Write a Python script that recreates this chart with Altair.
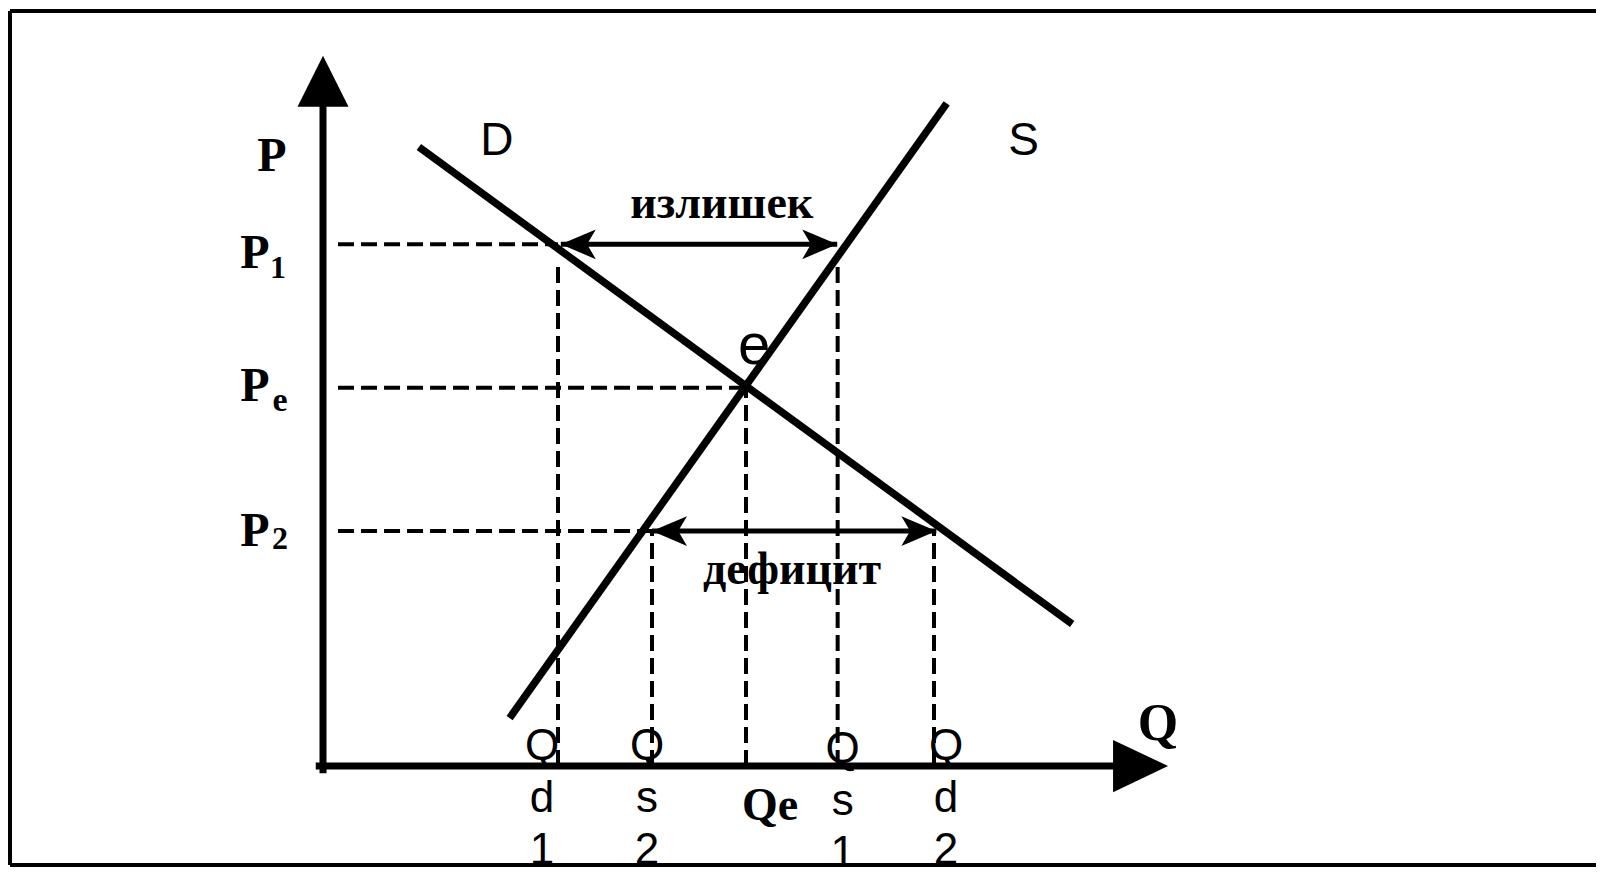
import altair as alt
import pandas as pd

# ---------------- values (economic units) ----------------
P_NAMES = ["P1", "Pe", "P2"]
P_VALUES = [11.1, 8.05, 5.0]
Q_NAMES = ["Qd1", "Qs2", "Qe", "Qs1", "Qd2"]
Q_VALUES = [5.0, 7.0, 9.0, 10.95, 13.0]
DEMAND_Q = [2.04, 15.94]
DEMAND_P = [13.17, 3.02]
SUPPLY_Q = [3.97, 13.27]
SUPPLY_P = [1.02, 14.1]
AXIS_Q_END = 17.98      # tip of the Q axis arrow
AXIS_P_END = 15.11      # tip of the P axis arrow
GUIDE_START = 0.32      # dashed price guides start just right of the axis
GUIDE_TOP = 10.75       # top of dashed drops at Qd1 and Qs1
SURPLUS_Q = [5.06, 10.94]
DEFICIT_Q = [7.0, 13.05]
Q_TICK_TEXT = ["Q\nd\n1", "Q\ns\n2", "Q\ns\n1", "Q\nd\n2"]

QD1, QS2, QE, QS1, QD2 = Q_VALUES
P1, PE, P2 = P_VALUES

# ---------------- layout ----------------
W, H = 1586, 854
UNIT = 47.0                 # pixels per economic unit (both axes)
ORIGIN_X, ORIGIN_Y = 313.0, 755.0   # origin inside the plot area
XDOM = [-ORIGIN_X / UNIT, (W - ORIGIN_X) / UNIT]
YDOM = [(ORIGIN_Y - H) / UNIT, ORIGIN_Y / UNIT]

SERIF = "Liberation Serif"
SANS = "Liberation Sans"


def X(f="q"):
    return alt.X(f"{f}:Q", scale=alt.Scale(domain=XDOM, nice=False, zero=False), axis=None)


def Y(f="p"):
    return alt.Y(f"{f}:Q", scale=alt.Scale(domain=YDOM, nice=False, zero=False), axis=None)


def segs(rows):
    return pd.DataFrame(rows, columns=["q", "p", "q2", "p2"])


# picture frame (top, left, bottom edges)
frame_top = alt.Chart().mark_rule(color="black", strokeWidth=4).encode(
    x=alt.value(0), x2=alt.value(W), y=alt.value(0))
frame_left = alt.Chart().mark_rule(color="black", strokeWidth=4).encode(
    x=alt.value(0), y=alt.value(0), y2=alt.value(H))
frame_bottom = alt.Chart().mark_rule(color="black", strokeWidth=4).encode(
    x=alt.value(0), x2=alt.value(W), y=alt.value(H))

# curves
curves = pd.DataFrame({
    "q": DEMAND_Q + SUPPLY_Q,
    "p": DEMAND_P + SUPPLY_P,
    "curve": ["D", "D", "S", "S"],
})
curve_layer = alt.Chart(curves).mark_line(color="black", strokeWidth=7.5, strokeCap="butt").encode(
    x=X(), y=Y(), detail="curve:N", order="q:Q"
)

# axes
axes = segs([
    [0, -0.08, 0, AXIS_P_END - 0.6],
    [-0.08, 0, AXIS_Q_END - 0.6, 0],
])
axis_layer = alt.Chart(axes).mark_rule(color="black", strokeWidth=7, strokeCap="square").encode(
    x=X(), y=Y(), x2="q2:Q", y2="p2:Q"
)
up_head = alt.Chart(pd.DataFrame({"q": [0], "p": [AXIS_P_END]})).mark_point(
    shape="M0,0L-1,2L1,2Z", filled=True, size=2601, color="black", opacity=1, strokeWidth=0
).encode(x=X(), y=Y())
right_axis_head = alt.Chart(pd.DataFrame({"q": [AXIS_Q_END], "p": [0]})).mark_point(
    shape="M0,0L-2,-0.95L-2,0.95Z", filled=True, size=3025, color="black", opacity=1, strokeWidth=0
).encode(x=X(), y=Y())

# dashed guides
guides = segs([
    [GUIDE_START, P1, QD1, P1],
    [GUIDE_START, PE, QE, PE],
    [GUIDE_START, P2, QS2, P2],
    [QD1, 0, QD1, GUIDE_TOP],
    [QS2, 0, QS2, P2],
    [QE, 0, QE, PE],
    [QS1, 0, QS1, GUIDE_TOP],
    [QD2, 0, QD2, P2],
])
guide_layer = alt.Chart(guides).mark_rule(color="black", strokeWidth=4, strokeDash=[16, 7]).encode(
    x=X(), y=Y(), x2="q2:Q", y2="p2:Q"
)

# double arrows (surplus / deficit)
shafts = segs([
    [SURPLUS_Q[0], P1, SURPLUS_Q[1], P1],
    [DEFICIT_Q[0], P2, DEFICIT_Q[1], P2],
])
shaft_layer = alt.Chart(shafts).mark_rule(color="black", strokeWidth=5).encode(
    x=X(), y=Y(), x2="q2:Q", y2="p2:Q"
)
left_heads = alt.Chart(pd.DataFrame({"q": [SURPLUS_Q[0], DEFICIT_Q[0]], "p": [P1, P2]})).mark_point(
    shape="M0,0L2,-0.85L1.5,0L2,0.85Z", filled=True, size=1225, color="black", opacity=1, strokeWidth=0
).encode(x=X(), y=Y())
right_heads = alt.Chart(pd.DataFrame({"q": [SURPLUS_Q[1], DEFICIT_Q[1]], "p": [P1, P2]})).mark_point(
    shape="M0,0L-2,-0.85L-1.5,0L-2,0.85Z", filled=True, size=1225, color="black", opacity=1, strokeWidth=0
).encode(x=X(), y=Y())


def label(text, q, p, dx, dy, font, size, bold=False, line_height=None):
    kw = dict(font=font, fontSize=size, fontWeight="bold" if bold else "normal",
              color="black", align="center", baseline="alphabetic", dx=dx, dy=dy)
    if line_height is not None:
        kw.update(lineBreak="\n", lineHeight=line_height)
    return alt.Chart(pd.DataFrame({"t": [text], "q": [q], "p": [p]})).mark_text(**kw).encode(
        x=X(), y=Y(), text="t:N"
    )


labels = [
    # axis titles
    label("P", 0, P1, -51, -73, SERIF, 48, bold=True),
    label("Q", QD2, 0, 224, -26, SERIF, 52, bold=True),
    # price levels
    label("P", 0, P1, -68, 24, SERIF, 48, bold=True),
    label("1", 0, P1, -45, 34, SERIF, 32, bold=True),
    label("P", 0, PE, -68, 13, SERIF, 48, bold=True),
    label("e", 0, PE, -43, 23, SERIF, 34, bold=True),
    label("P", 0, P2, -68, 15, SERIF, 48, bold=True),
    label("2", 0, P2, -43, 18, SERIF, 32, bold=True),
    # quantity labels
    label("Qe", QE, 0, 24, 54, SERIF, 46, bold=True),
    label(Q_TICK_TEXT[0], QD1, 0, -16, -6, SANS, 44, line_height=52),
    label(Q_TICK_TEXT[1], QS2, 0, -5, -6, SANS, 44, line_height=52),
    label(Q_TICK_TEXT[2], QS1, 0, 5, -3, SANS, 44, line_height=52),
    label(Q_TICK_TEXT[3], QD2, 0, 12, -6, SANS, 44, line_height=52),
    # annotations
    label("излишек", (QD1 + QS1) / 2, P1, 24, -26, SERIF, 46, bold=True),
    label("дефицит", (QS2 + QD2) / 2, P2, -1, 53, SERIF, 46, bold=True),
    label("D", DEMAND_Q[0], DEMAND_P[0], 78, 8, SANS, 46),
    label("S", SUPPLY_Q[1], SUPPLY_P[1], 77, 52, SANS, 46),
    label("e", QE, PE, 8, -24, SANS, 58),
]

chart = alt.layer(
    frame_top, frame_left, frame_bottom,
    guide_layer, shaft_layer, left_heads, right_heads,
    curve_layer, axis_layer, up_head, right_axis_head,
    *labels,
).properties(
    width=W, height=H,
    autosize=alt.AutoSizeParams(type="none"),
    padding={"left": 2, "top": 3, "right": 0, "bottom": 3},
    background="white",
).configure_view(stroke=None)

chart.save("out.html", embed_options={"renderer": "svg", "actions": False})
